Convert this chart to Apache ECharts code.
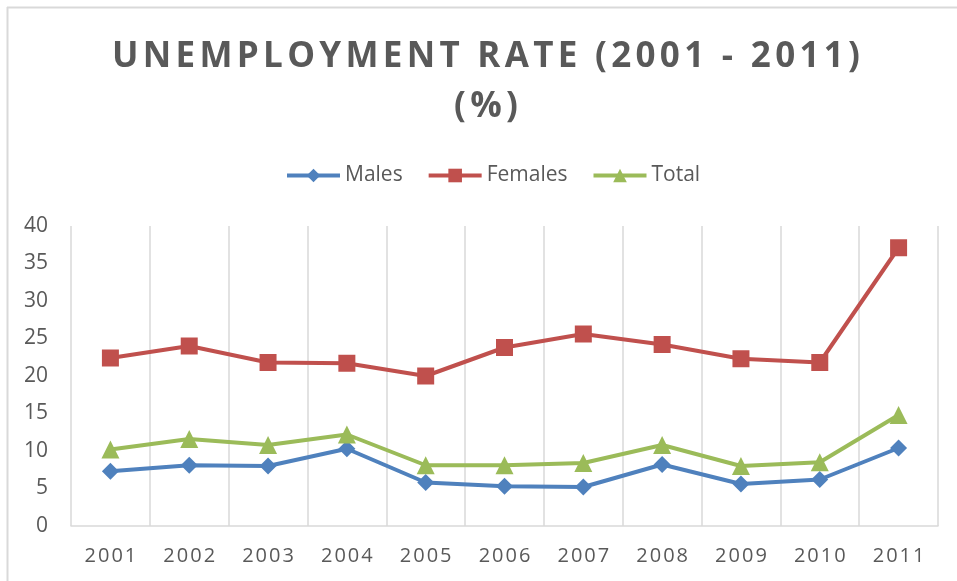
<!DOCTYPE html>
<html>
<head>
<meta charset="utf-8">
<script src="https://cdn.jsdelivr.net/npm/echarts@6/dist/echarts.min.js"></script>
<style>
  html, body { margin: 0; padding: 0; background: #ffffff; }
  #chart { width: 957px; height: 581px; }
</style>
</head>
<body>
<div id="chart"></div>
<script>
// Unemployment rate by year, in percent
const years = ['2001', '2002', '2003', '2004', '2005', '2006', '2007', '2008', '2009', '2010', '2011'];
const males = [7.3, 8.1, 8.0, 10.3, 5.8, 5.3, 5.2, 8.2, 5.6, 6.2, 10.4];
const females = [22.4, 24.0, 21.8, 21.7, 20.0, 23.8, 25.6, 24.2, 22.3, 21.8, 37.1];
const total = [10.2, 11.6, 10.8, 12.2, 8.1, 8.1, 8.4, 10.8, 8.0, 8.5, 14.8];
const yTicks = { min: 0, max: 40, interval: 5 };
const titleLines = ['UNEMPLOYMENT RATE (2001 - 2011)', '(%)'];

const gridColor = '#d9d9d9';
const textColor = '#595959';

// Wrap every character in a rich-text token so it gets extra tracking
function tracked(str, cls) {
  return str.split('').map(function (ch) { return '{' + cls + '|' + ch + '}'; }).join('');
}

const chart = echarts.init(document.getElementById('chart'), null, { renderer: 'canvas' });

function lineSeries(name, data, color, symbol, size) {
  return {
    name: name,
    type: 'line',
    data: data,
    symbol: symbol,
    symbolSize: size,
    showAllSymbol: true,
    lineStyle: { color: color, width: 4 },
    itemStyle: { color: color },
    emphasis: { disabled: true },
    animation: false
  };
}

chart.setOption({
  backgroundColor: '#ffffff',
  animation: false,
  title: {
    text: titleLines.map(function (l) { return tracked(l, 't'); }).join('\n'),
    left: 481,
    textAlign: 'center',
    top: 27,
    textStyle: {
      fontFamily: 'Open Sans',
      fontWeight: 'bold',
      fontSize: 35,
      color: textColor,
      lineHeight: 50,
      rich: {
        t: {
          fontFamily: 'Open Sans',
          fontWeight: 'bold',
          fontSize: 35,
          color: textColor,
          lineHeight: 50,
          padding: [0, 2.15, 0, 2.15]
        }
      }
    }
  },
  legend: {
    top: 160,
    left: 280,
    itemWidth: 53,
    itemHeight: 17,
    itemGap: 24,
    lineStyle: { width: 4 },
    textStyle: { fontFamily: 'Open Sans', fontSize: 21, color: textColor },
    data: ['Males', 'Females', 'Total']
  },
  grid: { left: 71, right: 19, top: 226, bottom: 55, containLabel: false },
  xAxis: {
    type: 'category',
    data: years,
    boundaryGap: true,
    axisLine: { show: true, lineStyle: { color: gridColor, width: 1.5 } },
    axisTick: { show: false },
    splitLine: { show: true, interval: 0, lineStyle: { color: gridColor, width: 1.5 } },
    axisLabel: {
      interval: 0,
      margin: 20,
      formatter: function (v) { return tracked(v, 'd'); },
      rich: {
        d: {
          fontFamily: 'Open Sans',
          fontSize: 20,
          color: textColor,
          padding: [0, 1, 0, 1]
        }
      }
    }
  },
  yAxis: {
    type: 'value',
    min: yTicks.min,
    max: yTicks.max,
    interval: yTicks.interval,
    axisLine: { show: false },
    axisTick: { show: false },
    splitLine: { show: false },
    axisLabel: {
      fontFamily: 'Open Sans',
      fontSize: 21,
      color: textColor,
      margin: 23
    }
  },
  graphic: [
    { type: 'line', shape: { x1: 7, y1: 7.5, x2: 957, y2: 7.5 }, style: { stroke: gridColor, lineWidth: 2 }, silent: true },
    { type: 'line', shape: { x1: 7.5, y1: 7, x2: 7.5, y2: 581 }, style: { stroke: gridColor, lineWidth: 2 }, silent: true }
  ],
  series: [
    lineSeries('Males', males, '#4F81BD', 'diamond', 17),
    lineSeries('Females', females, '#C0504D', 'rect', 17),
    lineSeries('Total', total, '#9BBB59', 'triangle', 18)
  ]
});
</script>
</body>
</html>
